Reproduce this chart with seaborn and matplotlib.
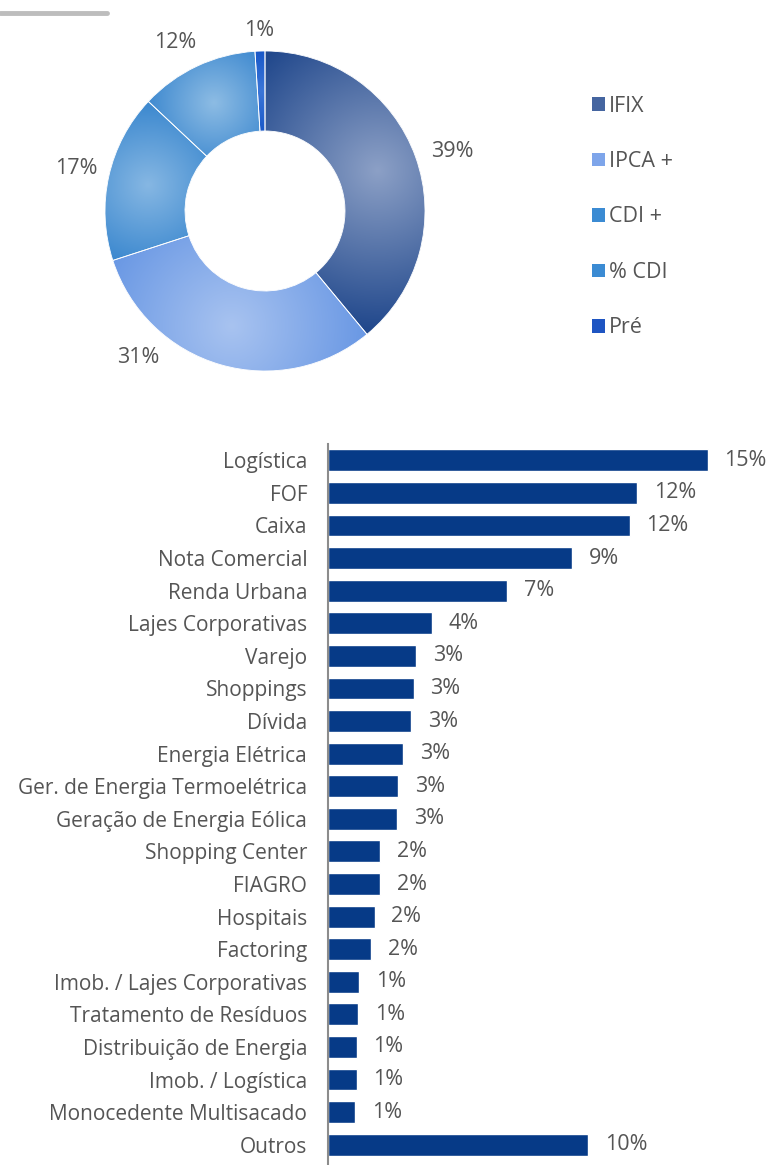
import numpy as np
import matplotlib
matplotlib.use("Agg")
import matplotlib.pyplot as plt
import seaborn as sns
import pandas as pd
from matplotlib.colors import LinearSegmentedColormap
from matplotlib.lines import Line2D
from matplotlib.patches import Patch, Wedge

# ---------------- data ----------------
pie_labels = ["IFIX", "IPCA +", "CDI +", "% CDI", "Pré"]
pie_values = [39, 31, 17, 12, 1]

categories = ["Logística", "FOF", "Caixa", "Nota Comercial", "Renda Urbana",
              "Lajes Corporativas", "Varejo", "Shoppings", "Dívida",
              "Energia Elétrica", "Ger. de Energia Termoelétrica",
              "Geração de Energia Eólica", "Shopping Center", "FIAGRO",
              "Hospitais", "Factoring", "Imob. / Lajes Corporativas",
              "Tratamento de Resíduos", "Distribuição de Energia",
              "Imob. / Logística", "Monocedente Multisacado", "Outros"]
bar_values = [14.6, 11.9, 11.6, 9.4, 6.9, 4.0, 3.4, 3.3, 3.2, 2.9, 2.7, 2.65,
              2.0, 2.0, 1.8, 1.65, 1.2, 1.15, 1.1, 1.1, 1.05, 10.0]
bar_text = ["15%", "12%", "12%", "9%", "7%", "4%", "3%", "3%", "3%", "3%", "3%",
            "3%", "2%", "2%", "2%", "2%", "1%", "1%", "1%", "1%", "1%", "10%"]

# ---------------- style ----------------
W, H = 773, 1165
sns.set_theme(style="white")
plt.rcParams["font.family"] = ["Open Sans", "DejaVu Sans"]
TXT = "#555555"
FS_CAT = 15
FS_VAL = 15.5
FS_PIE = 15.5

fig = plt.figure(figsize=(W / 100, H / 100), dpi=100)
fig.patch.set_facecolor("white")

# top-left grey rule
fig.add_artist(Line2D([0, 107 / W], [1 - 13 / H, 1 - 13 / H], color="#BDBDBD",
                      lw=3.5, transform=fig.transFigure))

# ---------------- donut ----------------
cx, cy, R = 265, 211, 160
half = 210  # half-size of axes in px
pax = fig.add_axes([(cx - half) / W, (H - cy - half) / H, 2 * half / W, 2 * half / H])

edge_cols = ["#21488C", "#5E90E2", "#2A7DCA", "#2D7ECB", "#0B4CC2"]
center_cols = ["#8CA0C6", "#A8C3F0", "#86B7E3", "#8DBCE4", "#3B76D8"]

wedges, texts = pax.pie(pie_values, startangle=90, counterclock=False,
                        colors=edge_cols, radius=1.0,
                        labels=[f"{v}%" for v in pie_values], labeldistance=1.2,
                        wedgeprops=dict(width=0.5, edgecolor="white", linewidth=0.6),
                        textprops=dict(color=TXT, fontsize=FS_PIE))
lim = half / R
pax.set_aspect("equal")
pax.axis("off")

# label placement tweaks (Excel "best fit" style): (radius, angle override or None)
label_pos = [(1.23, 17.5), (1.21, -131), (1.21, None), (1.19, 118), (1.13, None)]
for t, w, (r, ang) in zip(texts, wedges, label_pos):
    a = (w.theta1 + w.theta2) / 2 if ang is None else ang
    a = np.deg2rad(a)
    t.set_position((r * np.cos(a), r * np.sin(a)))
    t.set_ha("center")
    t.set_va("center")

xs = np.linspace(-1, 1, 400)
X, Y = np.meshgrid(xs, xs[::-1])
for w, ec, cc in zip(wedges, edge_cols, center_cols):
    mid = np.deg2rad((w.theta1 + w.theta2) / 2)
    gx, gy = 0.75 * np.cos(mid), 0.75 * np.sin(mid)
    span = np.deg2rad(abs(w.theta2 - w.theta1))
    Rg = max(0.35, min(1.0, 0.75 * span * 0.55 + 0.2))
    d = np.clip(np.hypot(X - gx, Y - gy) / Rg, 0, 1)
    cmap = LinearSegmentedColormap.from_list("g", [cc, ec])
    im = pax.imshow(d, extent=[-1, 1, -1, 1], cmap=cmap, vmin=0, vmax=1,
                    interpolation="bilinear", zorder=w.get_zorder() + 0.1)
    im.set_clip_path(w)
for w in wedges:
    pax.add_patch(Wedge((0, 0), 1.0, w.theta1, w.theta2, width=0.5,
                        facecolor="none", edgecolor="white", linewidth=0.6, zorder=5))
pax.set_xlim(-lim, lim)
pax.set_ylim(-lim, lim)

leg_cols = ["#4565A0", "#7EA5EA", "#3B8BD3", "#3B8BD3", "#1E55C2"]
handles = [Patch(facecolor=c, edgecolor="none") for c in leg_cols]
fig.legend(handles, pie_labels, loc="upper left",
           bbox_to_anchor=(583 / W, 1 - 87 / H), frameon=False,
           fontsize=FS_PIE, labelcolor=TXT, handlelength=0.6, handleheight=0.6,
           handletextpad=0.2, labelspacing=1.6, borderaxespad=0)

# ---------------- bars ----------------
px_per_pct = 26.0
x0 = 328
top = 444
bax = fig.add_axes([x0 / W, 0, (W - x0) / W, (H - top) / H])
df = pd.DataFrame({"cat": categories, "val": bar_values})
sns.barplot(data=df, x="val", y="cat", orient="h", color="#063A87",
            saturation=1, width=0.67, ax=bax)
bax.set_xlim(0, (W - x0) / px_per_pct)
step = 32.95
bax.set_ylim(len(categories) - 0.5 + 4 / step, -0.5)
bax.bar_label(bax.containers[0], labels=bar_text, padding=12, color=TXT, fontsize=FS_VAL)
bax.set_xlabel("")
bax.set_ylabel("")
bax.set_xticks([])
for s in ["top", "right", "bottom"]:
    bax.spines[s].set_visible(False)
bax.spines["left"].set_color("#8C8C8C")
bax.spines["left"].set_linewidth(1.5)
bax.tick_params(axis="y", length=0, pad=15, labelsize=FS_CAT, labelcolor=TXT)

fig.savefig("out.png", dpi=100, facecolor="white")
